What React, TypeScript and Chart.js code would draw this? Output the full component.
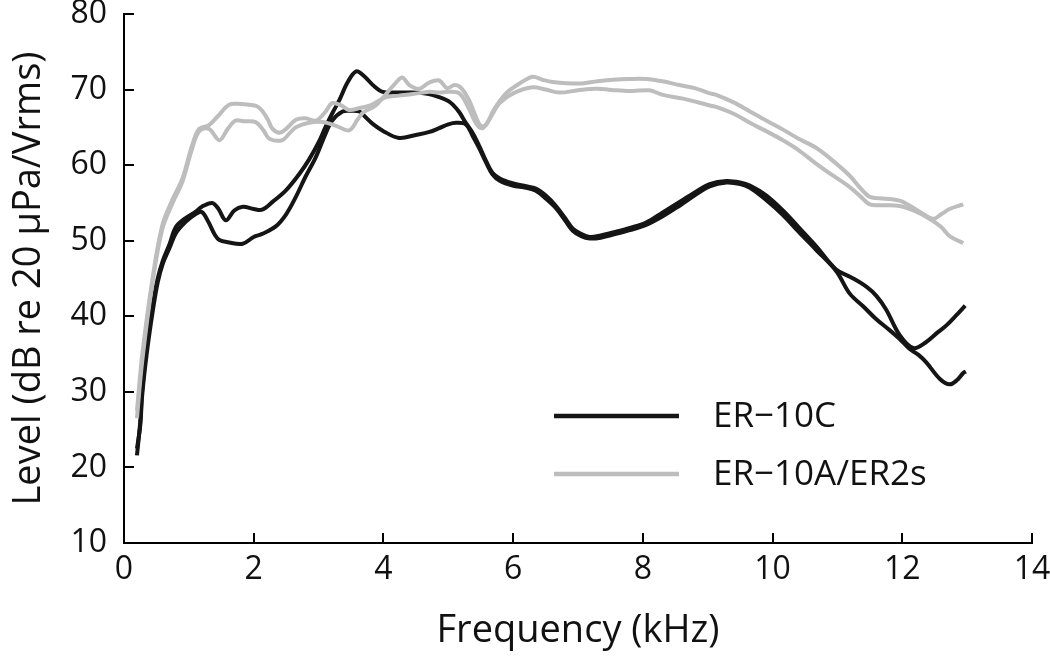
import React, { useEffect, useRef } from "react";
import { Chart, registerables } from "chart.js";

Chart.register(...registerables);

// ---- Data (frequency in kHz, level in dB re 20 µPa/Vrms) ----
const xTicks = [0, 2, 4, 6, 8, 10, 12, 14];
const yTicks = [10, 20, 30, 40, 50, 60, 70, 80];

const legendLabels = ["ER\u221210C", "ER\u221210A/ER2s"];

// ER-10C, measurement 1
const er10cAFreq = [0.2, 0.25, 0.28, 0.35, 0.44, 0.52, 0.6, 0.7, 0.8, 0.95, 1.1, 1.2, 1.36, 1.45, 1.57, 1.7, 1.83, 2.0, 2.13, 2.3, 2.5, 2.7, 2.85, 3.0, 3.11, 3.22, 3.32, 3.45, 3.58, 3.7, 3.85, 3.99, 4.2, 4.45, 4.7, 4.86, 5.0, 5.07, 5.17, 5.27, 5.38, 5.48, 5.58, 5.68, 5.8, 5.99, 6.2, 6.35, 6.5, 6.66, 6.8, 6.92, 7.05, 7.18, 7.35, 7.54, 7.8, 8.05, 8.3, 8.56, 8.8, 9.03, 9.29, 9.5, 9.65, 9.9, 10.16, 10.4, 10.67, 10.98, 11.2, 11.45, 11.6, 11.75, 11.96, 12.17, 12.37, 12.55, 12.68, 12.85, 12.97];
const er10cALevel = [21.6, 26, 30.2, 36, 41.3, 45, 47.4, 49.5, 51.8, 53, 53.8, 54.5, 55.0, 54.3, 52.7, 54, 54.5, 54.2, 54.1, 55.2, 56.7, 58.8, 60.7, 63, 65.1, 67, 68.6, 71, 72.4, 71.8, 70.5, 69.7, 69.6, 69.6, 69.4, 69.0, 68.5, 68.0, 67, 65.6, 64.2, 62.5, 60.6, 59.0, 58.2, 57.6, 57.2, 56.9, 56.0, 54.6, 53.0, 51.6, 50.9, 50.5, 50.7, 51.1, 51.7, 52.4, 53.7, 55.1, 56.4, 57.5, 57.9, 57.7, 57.3, 56.0, 54.0, 51.8, 49.3, 46.2, 45.2, 43.9, 42.7, 40.9, 37.5, 35.8, 36.6, 37.9, 38.8, 40.3, 41.4];

// ER-10C, measurement 2
const er10cBFreq = [0.2, 0.25, 0.28, 0.35, 0.44, 0.52, 0.6, 0.7, 0.8, 0.95, 1.1, 1.2, 1.3, 1.4, 1.47, 1.6, 1.83, 2.0, 2.13, 2.34, 2.5, 2.65, 2.8, 2.96, 3.1, 3.21, 3.37, 3.5, 3.63, 3.73, 3.83, 4.0, 4.24, 4.5, 4.71, 4.86, 5.0, 5.12, 5.27, 5.38, 5.48, 5.58, 5.68, 5.8, 5.99, 6.2, 6.35, 6.5, 6.66, 6.8, 6.92, 7.05, 7.18, 7.35, 7.54, 7.8, 8.05, 8.3, 8.56, 8.8, 9.03, 9.29, 9.5, 9.65, 9.9, 10.16, 10.4, 10.67, 10.98, 11.19, 11.4, 11.6, 11.8, 11.96, 12.11, 12.25, 12.37, 12.58, 12.73, 12.85, 12.94, 12.98];
const er10cBLevel = [22.5, 25.5, 29.5, 35, 40.5, 44.5, 47.0, 49, 51.0, 52.5, 53.5, 53.8, 52.5, 50.8, 50.1, 49.8, 49.6, 50.5, 50.9, 51.9, 53.5, 55.8, 58.5, 61.1, 64.0, 65.9, 67.1, 67.2, 67.1, 66.3, 65.5, 64.5, 63.6, 64.0, 64.4, 64.9, 65.4, 65.6, 65.4, 63.8, 62.2, 60.4, 58.8, 57.9, 57.3, 57.0, 56.6, 55.6, 54.3, 52.7, 51.3, 50.6, 50.3, 50.4, 50.8, 51.4, 52.1, 53.2, 54.6, 56.0, 57.2, 57.7, 57.5, 57.0, 55.4, 53.4, 51.2, 48.8, 46.0, 43.0, 41.3, 39.6, 38.2, 37.0, 35.7, 34.9, 33.9, 31.7, 31.0, 31.6, 32.5, 32.7];

// ER-10A/ER2s, measurement 1
const er10aAFreq = [0.2, 0.28, 0.44, 0.59, 0.75, 0.9, 1.05, 1.16, 1.31, 1.45, 1.62, 1.8, 1.93, 2.05, 2.13, 2.22, 2.29, 2.4, 2.5, 2.65, 2.8, 2.96, 3.1, 3.21, 3.35, 3.47, 3.65, 3.8, 4.04, 4.24, 4.45, 4.71, 4.86, 5.0, 5.17, 5.3, 5.43, 5.53, 5.65, 5.79, 6.0, 6.3, 6.5, 6.71, 7.0, 7.28, 7.6, 7.84, 8.1, 8.31, 8.62, 9.03, 9.13, 9.4, 9.65, 9.9, 10.16, 10.4, 10.67, 10.9, 11.19, 11.35, 11.5, 11.7, 11.96, 12.2, 12.42, 12.6, 12.73, 12.94];
const er10aALevel = [27.5, 34.8, 45.0, 52.0, 55.5, 58.2, 62.6, 64.8, 65.3, 66.5, 68.0, 68.1, 68.0, 67.8, 67.2, 66, 64.8, 64.3, 64.8, 66.0, 66.2, 65.9, 67.0, 68.2, 67.9, 67.3, 67.6, 67.9, 69.0, 69.2, 69.4, 69.7, 69.6, 69.7, 69.5, 67.8, 65.5, 64.9, 66.3, 68.2, 69.5, 70.3, 70.0, 69.6, 69.9, 70.1, 69.9, 69.8, 69.9, 69.3, 68.8, 67.9, 67.7, 66.8, 65.6, 64.5, 63.3, 62.0, 60.2, 58.8, 57.1, 55.9, 54.8, 54.7, 54.6, 53.9, 52.9, 51.8, 50.6, 49.7];

// ER-10A/ER2s, measurement 2
const er10aBFreq = [0.2, 0.28, 0.44, 0.59, 0.75, 0.9, 1.05, 1.16, 1.31, 1.47, 1.6, 1.72, 1.85, 2.03, 2.15, 2.24, 2.44, 2.55, 2.65, 2.85, 3.06, 3.27, 3.47, 3.6, 3.68, 3.88, 4.05, 4.18, 4.29, 4.4, 4.55, 4.7, 4.86, 4.98, 5.1, 5.2, 5.32, 5.43, 5.5, 5.58, 5.7, 5.89, 6.1, 6.3, 6.45, 6.61, 7.02, 7.3, 7.54, 7.8, 8.05, 8.3, 8.56, 8.8, 9.03, 9.13, 9.4, 9.65, 9.9, 10.16, 10.4, 10.67, 10.9, 11.19, 11.35, 11.5, 11.7, 11.96, 12.2, 12.47, 12.6, 12.73, 12.94];
const er10aBLevel = [26.5, 34.0, 44.5, 51.5, 55.0, 57.8, 62.2, 64.5, 64.8, 63.3, 64.8, 65.9, 65.8, 65.7, 64.6, 63.5, 63.3, 64.2, 65.0, 65.6, 65.7, 65.2, 64.6, 66.0, 66.9, 67.9, 69.5, 70.8, 71.6, 70.6, 70.1, 70.9, 71.2, 70.2, 70.6, 70.2, 68.6, 66.3, 65.2, 65.3, 67.3, 69.5, 70.8, 71.7, 71.3, 71.0, 70.8, 71.1, 71.3, 71.4, 71.4, 71.1, 70.6, 70.2, 69.5, 69.3, 68.3, 67.1, 65.9, 64.7, 63.5, 62.3, 60.8, 58.6, 57.0, 55.8, 55.6, 55.3, 54.2, 52.9, 53.5, 54.2, 54.8];

const BLACK = "#151515";
const GRAY = "#bdbdbd";
const FONT = "'Open Sans', 'Noto Sans', sans-serif";

const toPoints = (xs: number[], ys: number[]) => xs.map((x, i) => ({ x, y: ys[i] }));

const inwardTicks = {
  id: "inwardTicks",
  afterDraw(chart: any) {
    const { ctx, chartArea, scales } = chart;
    const x = scales.x;
    const y = scales.y;
    ctx.save();
    ctx.strokeStyle = "#000";
    ctx.lineWidth = 2;
    ctx.beginPath();
    x.ticks.forEach((t: any) => {
      const px = Math.round(x.getPixelForValue(t.value));
      ctx.moveTo(px, chartArea.bottom);
      ctx.lineTo(px, chartArea.bottom - 10);
    });
    y.ticks.forEach((t: any) => {
      const py = Math.round(y.getPixelForValue(t.value));
      ctx.moveTo(chartArea.left, py);
      ctx.lineTo(chartArea.left + 10, py);
    });
    ctx.stroke();
    ctx.restore();
  },
};

const customLegend = {
  id: "customLegend",
  afterDraw(chart: any) {
    const { ctx, chartArea } = chart;
    const x0 = chartArea.left + 430;
    const x1 = x0 + 125;
    const tx = x1 + 34;
    const rows = [
      { label: legendLabels[0], color: BLACK, y: chartArea.top + 402 },
      { label: legendLabels[1], color: GRAY, y: chartArea.top + 460 },
    ];
    ctx.save();
    ctx.font = `35px ${FONT}`;
    ctx.textBaseline = "middle";
    ctx.textAlign = "left";
    rows.forEach((r) => {
      ctx.strokeStyle = r.color;
      ctx.lineWidth = 4.5;
      ctx.beginPath();
      ctx.moveTo(x0, r.y);
      ctx.lineTo(x1, r.y);
      ctx.stroke();
      ctx.fillStyle = "#111";
      ctx.fillText(r.label, tx, r.y + 1);
    });
    ctx.restore();
  },
};

export default function App() {
  const canvasRef = useRef<HTMLCanvasElement | null>(null);

  useEffect(() => {
    document.body.style.margin = "0";
    const canvas = canvasRef.current;
    if (!canvas) return;
    const lineDs = (label: string, xs: number[], ys: number[], color: string) => ({
      label,
      data: toPoints(xs, ys),
      borderColor: color,
      backgroundColor: color,
      borderWidth: 4,
      pointRadius: 0,
      tension: 0.35,
      fill: false,
    });
    const chart = new Chart(canvas, {
      type: "line",
      data: {
        datasets: [
          lineDs(legendLabels[1], er10aAFreq, er10aALevel, GRAY),
          lineDs(legendLabels[1], er10aBFreq, er10aBLevel, GRAY),
          lineDs(legendLabels[0], er10cAFreq, er10cALevel, BLACK),
          lineDs(legendLabels[0], er10cBFreq, er10cBLevel, BLACK),
        ],
      },
      options: {
        responsive: false,
        animation: false,
        layout: { padding: { top: 14, right: 18, left: 0, bottom: 0 } },
        plugins: {
          legend: { display: false },
          tooltip: { enabled: false },
        },
        scales: {
          x: {
            type: "linear",
            min: 0,
            max: 14,
            afterBuildTicks: (scale: any) => {
              scale.ticks = xTicks.map((v) => ({ value: v }));
            },
            afterFit: (scale: any) => {
              scale.height = 113;
              scale.paddingLeft = 0;
              scale.paddingRight = 0;
            },
            grid: { display: false, drawTicks: false },
            border: { display: true, color: "#000", width: 2 },
            ticks: {
              autoSkip: false,
              maxRotation: 0,
              padding: 8,
              color: "#111",
              font: { family: FONT, size: 32 },
            },
            title: {
              display: true,
              text: "Frequency (kHz)",
              color: "#111",
              font: { family: FONT, size: 38 },
              padding: { top: 0, bottom: 2 },
            },
          },
          y: {
            type: "linear",
            min: 10,
            max: 80,
            afterBuildTicks: (scale: any) => {
              scale.ticks = yTicks.map((v) => ({ value: v }));
            },
            afterFit: (scale: any) => {
              scale.width = 124;
              scale.paddingTop = 0;
              scale.paddingBottom = 0;
            },
            grid: { display: false, drawTicks: false },
            border: { display: true, color: "#000", width: 2 },
            ticks: {
              padding: 17,
              color: "#111",
              font: { family: FONT, size: 32 },
            },
            title: {
              display: true,
              text: "Level (dB re 20 \u03bcPa/Vrms)",
              color: "#111",
              font: { family: FONT, size: 38 },
              padding: { top: 6, bottom: 0 },
            },
          },
        },
      },
      plugins: [inwardTicks, customLegend],
    } as any);
    return () => chart.destroy();
  }, []);

  return (
    <div style={{ width: 1050, height: 656, background: "#fff" }}>
      <canvas ref={canvasRef} width={1050} height={656} style={{ display: "block" }} />
    </div>
  );
}
